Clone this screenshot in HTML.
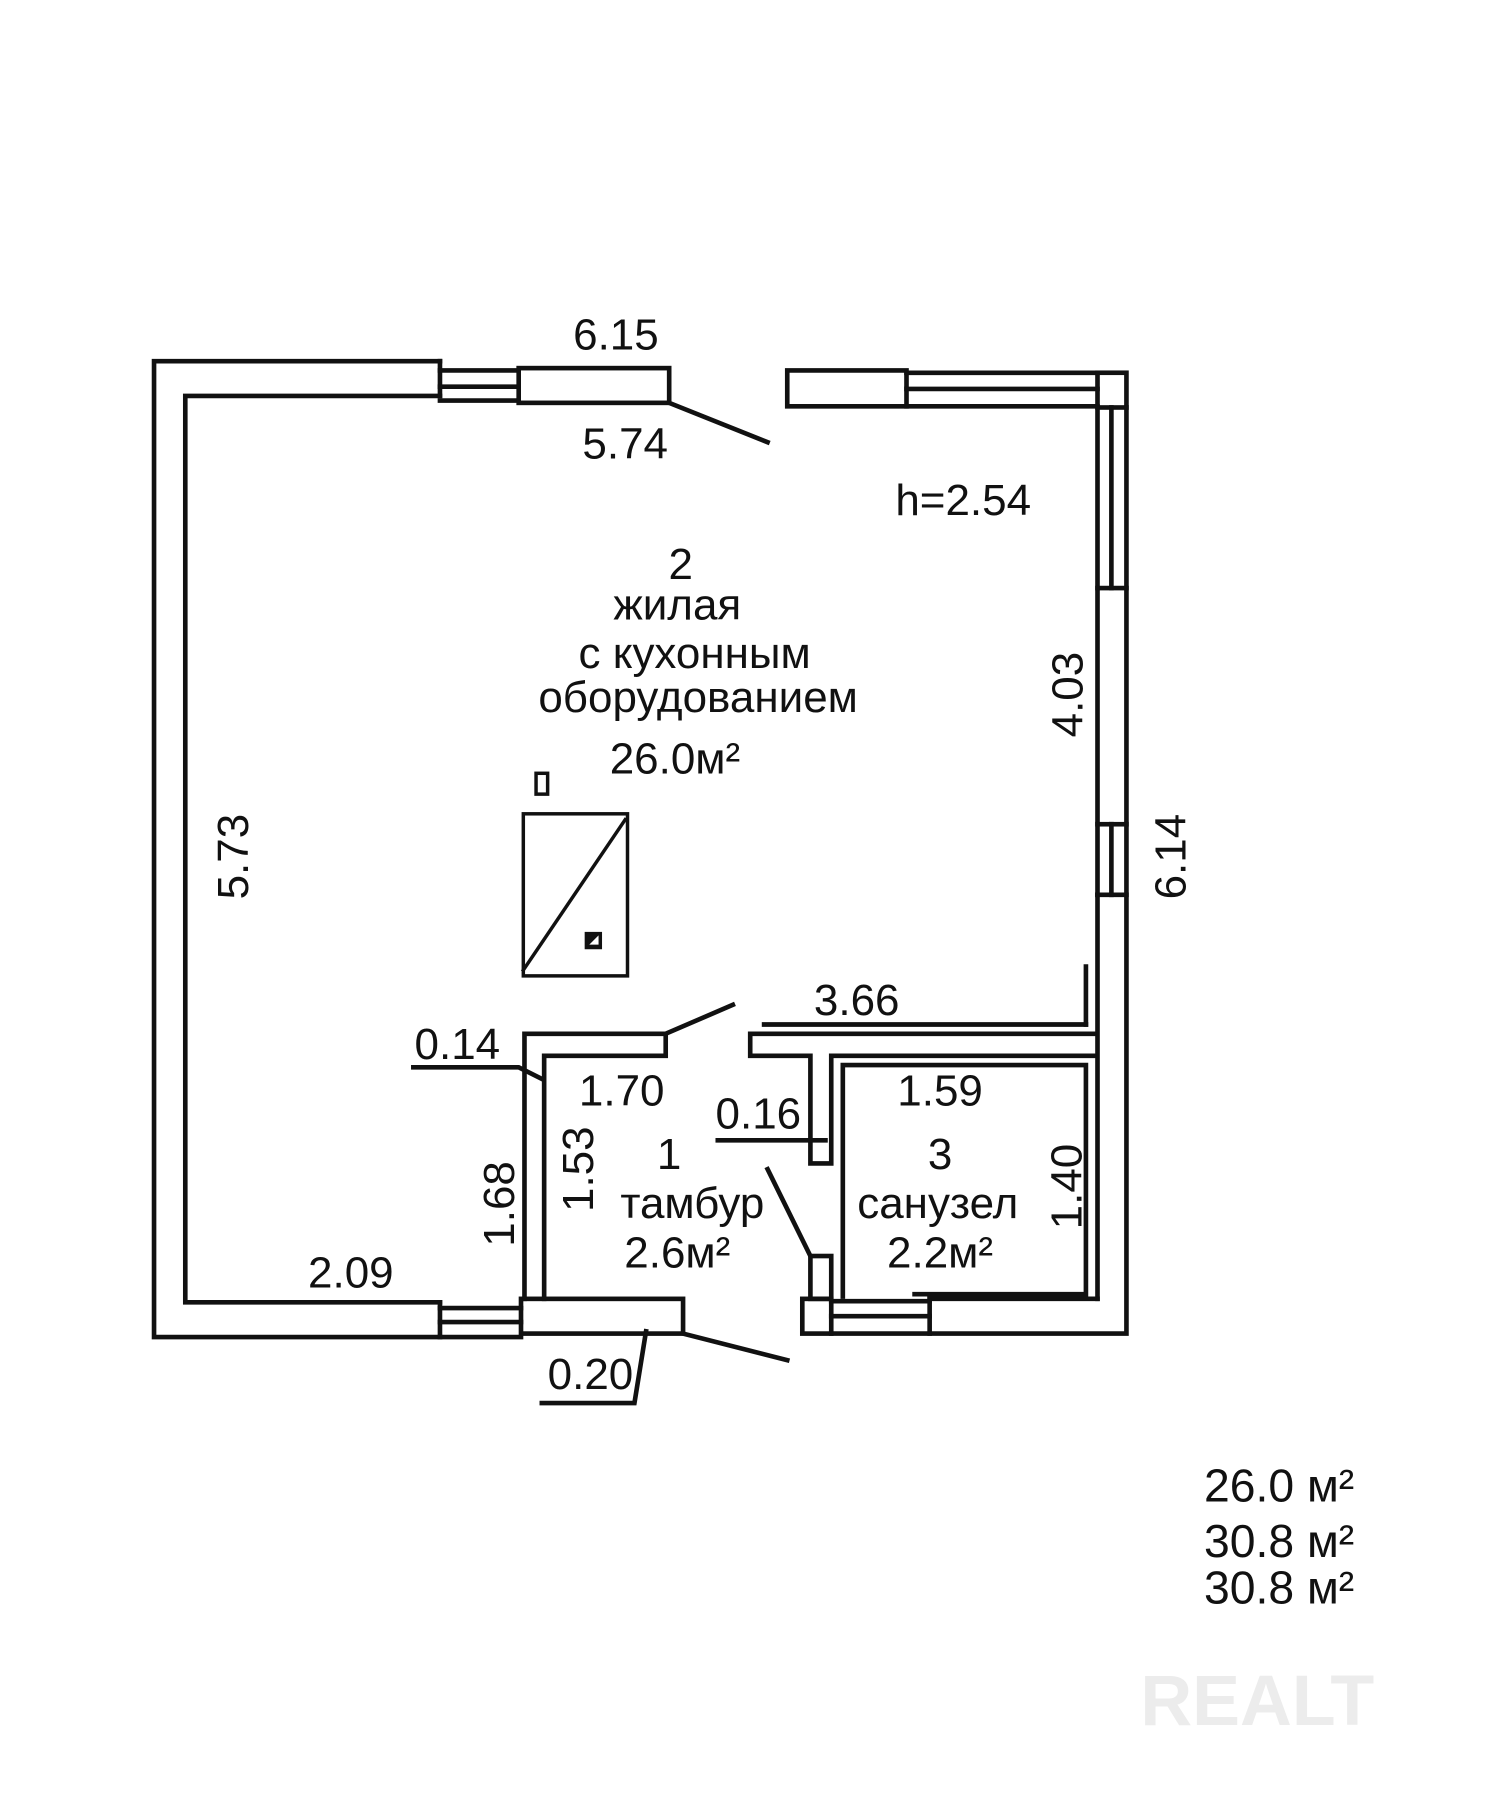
<!DOCTYPE html>
<html><head><meta charset="utf-8"><style>
html,body{margin:0;padding:0;background:#fff}
svg{display:block}
text{font-family:"Liberation Sans Narrow","Liberation Sans",sans-serif;fill:#111}
</style></head><body>
<svg width="1512" height="1814" viewBox="0 0 1306 1567" xmlns="http://www.w3.org/2000/svg">
<g stroke="#111" stroke-width="4" fill="none" stroke-linecap="square">
<!-- outer left wall + top-left -->
<polyline points="380,312 133,312 133,1155 380,1155"/>
<polyline points="380,342 160,342 160,1125 380,1125"/>
<line x1="380" y1="312" x2="380" y2="342"/>
<!-- top window -->
<line x1="380" y1="320" x2="448" y2="320"/><line x1="380" y1="334" x2="448" y2="334"/>
<line x1="380" y1="346" x2="448" y2="346"/>
<rect x="448" y="318" width="130" height="30"/>
<line x1="578" y1="348" x2="663" y2="382"/>
<rect x="680" y="320" width="103" height="31"/>
<line x1="783" y1="322" x2="948" y2="322"/><line x1="783" y1="336" x2="948" y2="336"/><line x1="783" y1="351" x2="948" y2="351"/>
<rect x="948" y="322" width="25" height="30"/>
<!-- right wall -->
<line x1="948" y1="352" x2="948" y2="508"/><line x1="960" y1="352" x2="960" y2="508"/><line x1="973" y1="352" x2="973" y2="508"/>
<rect x="948" y="508" width="25" height="204"/>
<line x1="948" y1="712" x2="948" y2="773"/><line x1="960" y1="712" x2="960" y2="773"/><line x1="973" y1="712" x2="973" y2="773"/>
<polyline points="948,773 973,773 973,1152 803,1152 803,1122"/>
<line x1="948" y1="773" x2="948" y2="1122"/>
<line x1="803" y1="1122" x2="948" y2="1122"/>
<!-- bottom -->
<line x1="380" y1="1125" x2="380" y2="1155"/>
<line x1="380" y1="1130" x2="450" y2="1130"/><line x1="380" y1="1142" x2="450" y2="1142"/><line x1="380" y1="1155" x2="450" y2="1155"/>
<rect x="450" y="1122" width="140" height="30"/>
<line x1="590" y1="1152" x2="680" y2="1175"/>
<rect x="693" y="1122" width="25" height="30"/>
<line x1="718" y1="1124" x2="803" y2="1124"/><line x1="718" y1="1137" x2="803" y2="1137"/><line x1="718" y1="1152" x2="803" y2="1152"/>
<!-- tambour partition -->
<polyline points="453,1122 453,893 575,893 575,912 470,912 470,1122"/>
<line x1="575" y1="893" x2="633" y2="868"/>
<!-- right partition -->
<polyline points="945,893 648,893 648,912 700,912 700,1005 718,1005 718,912 945,912"/>
<polyline points="728,1120 728,920 938,920 938,1118 790,1118"/>
<line x1="660" y1="885" x2="938" y2="885"/><line x1="938" y1="835" x2="938" y2="885"/>
<rect x="700" y="1085" width="18" height="37"/>
<line x1="663" y1="1010" x2="700" y2="1085"/>
<!-- leaders -->
<polyline points="357,922 448,922 468,932"/>
<line x1="620" y1="985" x2="713" y2="985"/>
<polyline points="468,1212 548,1212 558,1150"/>
<!-- stove -->
<rect x="452" y="703" width="90" height="140" stroke-width="3"/>
<line x1="452" y1="838" x2="540" y2="708" stroke-width="3"/>
<rect x="463" y="668" width="10" height="18" stroke-width="3"/>
</g>
<rect x="505" y="805" width="15" height="15" fill="#111"/>
<polygon points="509,816 517,808 517,816" fill="#fff"/>
<g font-size="38" text-anchor="middle">
<text x="532" y="302">6.15</text>
<text x="540" y="396">5.74</text>
<text x="832" y="445">h=2.54</text>
<text x="588" y="500">2</text>
<text x="585" y="535">жилая</text>
<text x="600" y="577">с кухонным</text>
<text x="603" y="615">оборудованием</text>
<text x="583" y="668">26.0м²</text>
<text transform="translate(214,740) rotate(-90)">5.73</text>
<text transform="translate(935,600) rotate(-90)">4.03</text>
<text transform="translate(1024,740) rotate(-90)">6.14</text>
<text x="740" y="877">3.66</text>
<text x="395" y="915">0.14</text>
<text x="537" y="955">1.70</text>
<text x="655" y="975">0.16</text>
<text x="812" y="955">1.59</text>
<text transform="translate(512,1010) rotate(-90)">1.53</text>
<text transform="translate(444,1040) rotate(-90)">1.68</text>
<text transform="translate(934,1025) rotate(-90)">1.40</text>
<text x="578" y="1010">1</text>
<text x="598" y="1052">тамбур</text>
<text x="585" y="1095">2.6м²</text>
<text x="812" y="1010">3</text>
<text x="810" y="1052">санузел</text>
<text x="812" y="1095">2.2м²</text>
<text x="303" y="1112">2.09</text>
<text x="510" y="1200">0.20</text>
</g>
<g font-size="40">
<text x="1040" y="1297">26.0 м²</text>
<text x="1040" y="1345">30.8 м²</text>
<text x="1040" y="1385">30.8 м²</text>
</g>
<text x="985" y="1490" font-size="62" font-weight="bold" fill="#eee" style="fill:#ececec">REALT</text>
</svg>
</body></html>
